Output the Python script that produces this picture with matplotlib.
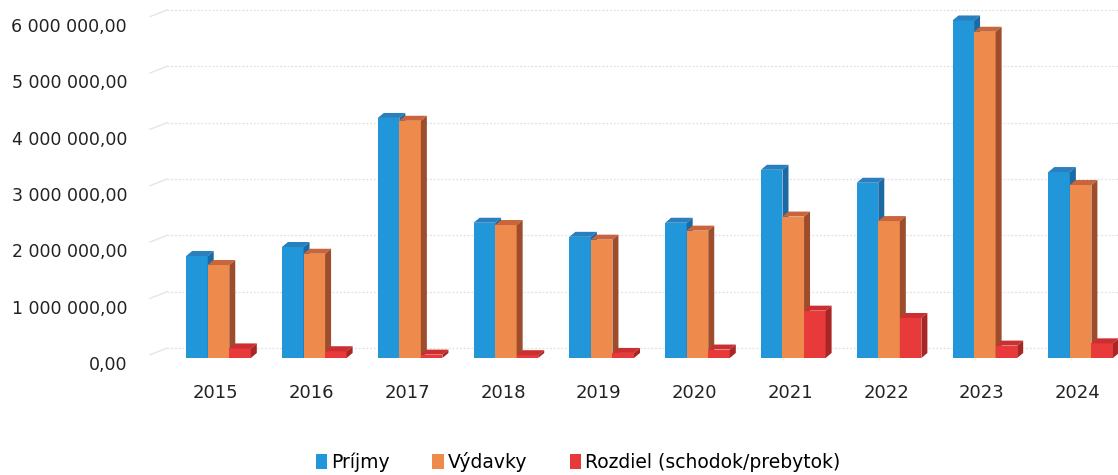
import matplotlib
matplotlib.use("Agg")
import matplotlib.pyplot as plt
from matplotlib.patches import Polygon, Patch
from matplotlib.transforms import ScaledTranslation
import numpy as np

plt.rcParams['font.family'] = ['DejaVu Sans Condensed', 'Liberation Sans Narrow', 'DejaVu Sans']

years = ["2015", "2016", "2017", "2018", "2019", "2020", "2021", "2022", "2023", "2024"]
prijmy = [1.81e6, 1.97e6, 4.26e6, 2.40e6, 2.15e6, 2.40e6, 3.34e6, 3.11e6, 5.99e6, 3.30e6]
vydavky = [1.65e6, 1.85e6, 4.21e6, 2.36e6, 2.10e6, 2.26e6, 2.51e6, 2.43e6, 5.79e6, 3.07e6]
rozdiel = [0.17e6, 0.12e6, 0.06e6, 0.05e6, 0.09e6, 0.15e6, 0.84e6, 0.71e6, 0.22e6, 0.26e6]
series_names = ["Príjmy", "Výdavky", "Rozdiel (schodok/prebytok)"]
yticks = [0, 1e6, 2e6, 3e6, 4e6, 5e6, 6e6]

# front / top / side colours per series
colors = [("#2196d9", "#2a7fbf", "#1b6aa3"),
          ("#ee8a4c", "#c9653b", "#9e4d2c"),
          ("#e8393b", "#cc2f2f", "#a82626")]

fig = plt.figure(figsize=(11.18, 4.75), dpi=100)
W, H = 1118, 475
ax = fig.add_axes([150 / W, 117 / H, (1118 - 150) / W, (472 - 117) / H])
ax.set_xlim(-0.715, 9.39)
ax.set_ylim(0, 6.3e6)

x = np.arange(len(years))
w = 0.225
# depth of bars, in data units (about 6 px right, 5 px up)
dx = 6 / 95.8
dy = 5 / 56.3 * 1e6

# back wall gridlines, shifted up like the 3D wall
wall = ax.transData + ScaledTranslation(0, 10 / 100, fig.dpi_scale_trans)
for v in yticks:
    ax.plot([-0.535, 9.39], [v, v], color="#e0e0e0", lw=0.9, ls=(0, (1.5, 1.5)),
            transform=wall, zorder=0, clip_on=False)
    ax.plot([-0.715, -0.535], [v - 0.12e6, v], color="#e3e3e3", lw=0.9,
            transform=wall, zorder=0, clip_on=False)

for i in range(len(years)):
    for k, vals in enumerate([prijmy, vydavky, rozdiel]):
        v = vals[i]
        x0 = x[i] - 1.5 * w + k * w
        front, top, side = colors[k]
        z = 2 + k
        ax.bar(x0, v, width=w, align="edge", color=front, zorder=z, lw=0)
        ax.add_patch(Polygon([(x0, v), (x0 + w, v), (x0 + w + dx, v + dy), (x0 + dx, v + dy)],
                             closed=True, color=top, lw=0, zorder=z))
        ax.add_patch(Polygon([(x0 + w, 0), (x0 + w + dx, dy), (x0 + w + dx, v + dy), (x0 + w, v)],
                             closed=True, color=side, lw=0, zorder=z))

ax.set_xticks(x)
ax.set_xticklabels(years, fontsize=13, color="#222222")
ax.set_yticks(yticks)
ax.set_yticklabels([f"{v:,.2f}".replace(",", " ").replace(".", ",") for v in yticks],
                   fontsize=12.5, color="#222222")
ax.tick_params(axis="x", length=0, pad=19)
ax.tick_params(axis="y", length=0, pad=16.5)
for lab in ax.get_yticklabels():
    lab.set_transform(lab.get_transform() + ScaledTranslation(0, -5 / 100, fig.dpi_scale_trans))
for lab in ax.get_xticklabels():
    lab.set_transform(lab.get_transform() + ScaledTranslation(-3 / 100, 0, fig.dpi_scale_trans))
for s in ax.spines.values():
    s.set_visible(False)

handles = [Patch(facecolor=colors[k][0], edgecolor="none") for k in range(3)]
fig.legend(handles, series_names, loc="center", bbox_to_anchor=(578 / W, 1 - 462 / H),
           ncol=3, frameon=False, fontsize=13.5, handlelength=0.6, handleheight=0.9,
           handletextpad=0.2, columnspacing=2.3)

fig.savefig("out.png", dpi=100)
